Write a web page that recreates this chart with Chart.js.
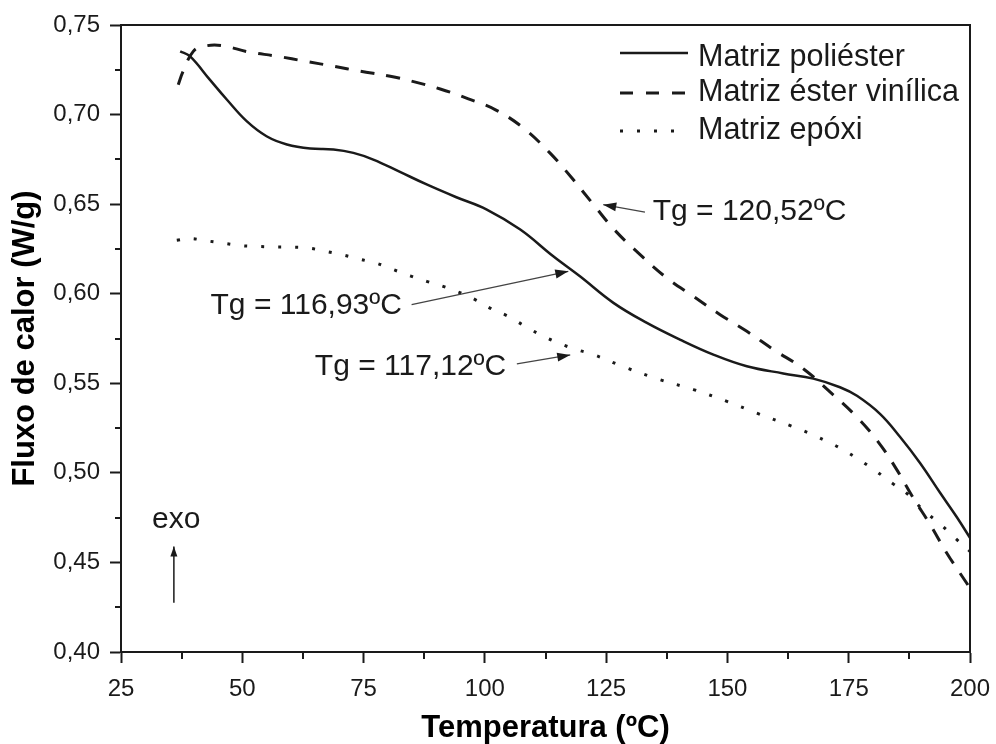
<!DOCTYPE html>
<html><head><meta charset="utf-8">
<script src="https://cdn.jsdelivr.net/npm/chart.js@4.4.1/dist/chart.umd.min.js"></script>
<style>html,body{margin:0;padding:0;background:#fff;}#wrap{width:996px;height:744px;}</style>
</head><body><div id="wrap"><canvas id="c" width="996" height="744"></canvas></div>
<script>
// ---- data ----
const seriesLabels = ['Matriz poliéster', 'Matriz éster vinílica', 'Matriz epóxi'];

const poliesterX = [37.2, 39.2, 43.3, 46.8, 50.9, 55.0, 59.2, 64.0, 68.8, 72.9, 77.0, 82.5, 88.0, 94.0, 100.4, 107.3, 114.1, 119.6, 126.5, 133.4, 140.2, 147.1, 154.0, 161.5, 167.7, 173.2, 176.7, 181.5, 185.6, 189.7, 193.8, 197.3, 200];
const poliesterY = [0.7353, 0.7326, 0.7195, 0.7084, 0.6963, 0.6879, 0.6833, 0.6810, 0.6805, 0.6786, 0.6749, 0.6680, 0.6610, 0.6540, 0.6470, 0.6358, 0.6209, 0.6097, 0.5949, 0.5837, 0.5744, 0.5660, 0.5595, 0.5555, 0.5526, 0.5478, 0.5430, 0.5328, 0.5200, 0.5055, 0.4890, 0.4752, 0.4637];

const vinilicaX = [36.8, 37.8, 39.9, 42.0, 45.8, 51.2, 57.1, 63.3, 68.8, 74.3, 80.5, 86.3, 90.8, 96.6, 102.1, 107.9, 113.4, 117.9, 122.4, 126.7, 132.0, 137.5, 143.0, 148.5, 154.0, 159.5, 165.7, 170.8, 176.3, 181.1, 184.9, 188.3, 191.8, 195.2, 199.3, 200];
const vinilicaY = [0.7167, 0.7242, 0.7353, 0.7381, 0.7385, 0.7350, 0.7326, 0.7296, 0.7270, 0.7242, 0.7214, 0.7177, 0.7143, 0.7088, 0.7028, 0.6926, 0.6786, 0.6647, 0.6497, 0.6357, 0.6218, 0.6088, 0.5985, 0.5883, 0.5790, 0.5688, 0.5580, 0.5460, 0.5322, 0.5172, 0.5018, 0.4860, 0.4711, 0.4553, 0.4385, 0.4355];

const epoxiX = [36.5, 39.2, 42.7, 46.1, 49.9, 53.3, 56.8, 60.2, 63.6, 67.1, 70.5, 74.3, 77.7, 81.1, 84.6, 88.0, 91.4, 94.5, 98.0, 101.4, 104.8, 108.3, 112.1, 115.5, 118.9, 122.4, 129.2, 136.1, 143.0, 149.9, 156.0, 163.3, 166.7, 170.1, 173.5, 177.1, 180.4, 184.1, 187.3, 190.4, 193.8, 196.9, 200];
const epoxiY = [0.6298, 0.6308, 0.6295, 0.6282, 0.6268, 0.6264, 0.6261, 0.6260, 0.6255, 0.6237, 0.6218, 0.6192, 0.6170, 0.6135, 0.6100, 0.6069, 0.6041, 0.6010, 0.5967, 0.5915, 0.5874, 0.5818, 0.5762, 0.5721, 0.5688, 0.5660, 0.5586, 0.5520, 0.5465, 0.5399, 0.5334, 0.5260, 0.5223, 0.5181, 0.5134, 0.5074, 0.5014, 0.4940, 0.4878, 0.4791, 0.4716, 0.4637, 0.4562];

const xTickValues = [25, 50, 75, 100, 125, 150, 175, 200];
const yTickValues = [0.40, 0.45, 0.50, 0.55, 0.60, 0.65, 0.70, 0.75];
const xMinorTicks = [37.5, 62.5, 87.5, 112.5, 137.5, 162.5, 187.5];
const yMinorTicks = [0.425, 0.475, 0.525, 0.575, 0.625, 0.675, 0.725];

const xTitle = 'Temperatura (ºC)';
const yTitle = 'Fluxo de calor (W/g)';

// annotations in data coordinates
const annotationTexts = ['Tg = 120,52ºC', 'Tg = 116,93ºC', 'Tg = 117,12ºC', 'exo'];
const annotationX = [134.6, 82.9, 104.4, 31.4];
const annotationY = [0.646, 0.5935, 0.5595, 0.4739];
const arrowFromX = [133.0, 84.9, 106.6, 35.9];
const arrowFromY = [0.6456, 0.5939, 0.5608, 0.4275];
const arrowToX = [124.4, 117.2, 117.6, 35.9];
const arrowToY = [0.6497, 0.6125, 0.5658, 0.4589];

// ---- build ----
const FONT = '"Liberation Sans", Arial, sans-serif';
const INK = '#1a1a1a';
const toPts = (xs, ys) => xs.map((x, i) => ({x: x, y: ys[i]}));

const styles = [
  {borderDash: [], borderWidth: 2.5},
  {borderDash: [14, 12], borderWidth: 3},
  {borderDash: [3, 14], borderWidth: 3}
];
const seriesData = [toPts(poliesterX, poliesterY), toPts(vinilicaX, vinilicaY), toPts(epoxiX, epoxiY)];

const datasets = seriesData.map((d, i) => ({
  label: seriesLabels[i],
  data: d,
  borderColor: INK,
  backgroundColor: INK,
  borderWidth: styles[i].borderWidth,
  borderDash: styles[i].borderDash,
  borderCapStyle: 'butt',
  pointRadius: 0,
  showLine: true,
  fill: false,
  tension: 0.4
}));

function arrowHead(ctx, x1, y1, x2, y2, len, half) {
  const a = Math.atan2(y2 - y1, x2 - x1);
  ctx.beginPath();
  ctx.moveTo(x2, y2);
  ctx.lineTo(x2 - len * Math.cos(a) + half * Math.sin(a), y2 - len * Math.sin(a) - half * Math.cos(a));
  ctx.lineTo(x2 - len * Math.cos(a) - half * Math.sin(a), y2 - len * Math.sin(a) + half * Math.cos(a));
  ctx.closePath();
  ctx.fill();
}

const decor = {
  id: 'decor',
  afterDraw(chart) {
    const {ctx, chartArea: ca, scales: {x, y}} = chart;
    ctx.save();
    // frame
    ctx.strokeStyle = INK;
    ctx.lineWidth = 2;
    ctx.strokeRect(ca.left, ca.top, ca.right - ca.left, ca.bottom - ca.top);
    // minor ticks
    ctx.beginPath();
    xMinorTicks.forEach(v => {
      const px = Math.round(x.getPixelForValue(v));
      ctx.moveTo(px, ca.bottom); ctx.lineTo(px, ca.bottom + 7);
    });
    yMinorTicks.forEach(v => {
      const py = Math.round(y.getPixelForValue(v));
      ctx.moveTo(ca.left - 6, py); ctx.lineTo(ca.left, py);
    });
    ctx.stroke();

    // annotations
    ctx.fillStyle = INK;
    ctx.font = '30px ' + FONT;
    ctx.textBaseline = 'middle';
    annotationTexts.forEach((t, i) => {
      const isLeft = (i === 0 || i === 3);
      ctx.textAlign = isLeft ? 'left' : 'right';
      ctx.fillText(t, x.getPixelForValue(annotationX[i]), y.getPixelForValue(annotationY[i]));
    });
    arrowFromX.forEach((fx, i) => {
      const x1 = x.getPixelForValue(fx), y1 = y.getPixelForValue(arrowFromY[i]);
      const x2 = x.getPixelForValue(arrowToX[i]), y2 = y.getPixelForValue(arrowToY[i]);
      ctx.strokeStyle = i === 3 ? INK : '#444';
      ctx.lineWidth = i === 3 ? 1.5 : 1.3;
      ctx.beginPath(); ctx.moveTo(x1, y1); ctx.lineTo(x2, y2); ctx.stroke();
      ctx.fillStyle = INK;
      arrowHead(ctx, x1, y1, x2, y2, i === 3 ? 10 : 13, i === 3 ? 3.5 : 4.5);
    });

    // legend
    const lineX1 = 620, lineX2 = 688, textX = 698;
    const rowLine = [53, 93, 131];
    const rowText = [58, 93, 131];
    chart.data.datasets.forEach((ds, i) => {
      ctx.strokeStyle = INK;
      ctx.lineWidth = ds.borderWidth;
      ctx.setLineDash(i === 1 ? [13, 13] : ds.borderDash);
      ctx.lineCap = 'butt';
      ctx.beginPath(); ctx.moveTo(lineX1, rowLine[i]); ctx.lineTo(lineX2, rowLine[i]); ctx.stroke();
      ctx.setLineDash([]);
      ctx.fillStyle = INK;
      ctx.textAlign = 'left';
      ctx.textBaseline = 'middle';
      ctx.font = '30.5px ' + FONT;
      ctx.fillText(ds.label, textX, rowText[i]);
    });
    ctx.restore();
  }
};

new Chart(document.getElementById('c'), {
  type: 'scatter',
  data: {datasets: datasets},
  options: {
    responsive: false,
    animation: false,
    events: [],
    layout: {padding: {top: 25, right: 26, left: 0, bottom: 0}},
    plugins: {legend: {display: false}, tooltip: {enabled: false}},
    scales: {
      x: {
        type: 'linear', min: 25, max: 200,
        afterBuildTicks: s => { s.ticks = xTickValues.map(v => ({value: v})); },
        afterFit: s => { s.height = 92; s.paddingLeft = 0; s.paddingRight = 0; },
        ticks: {color: INK, font: {family: FONT, size: 24}, padding: 12, maxRotation: 0,
          callback: v => String(v)},
        grid: {display: true, drawOnChartArea: false, drawTicks: true, tickLength: 11, tickWidth: 2, tickColor: INK, color: INK},
        border: {display: true, width: 2, color: INK},
        title: {display: true, text: xTitle, color: '#000', font: {family: FONT, size: 31, weight: 'bold', lineHeight: 1}, padding: {top: 0, bottom: 0}}
      },
      y: {
        type: 'linear', min: 0.40, max: 0.75,
        afterBuildTicks: s => { s.ticks = yTickValues.map(v => ({value: v})); },
        afterFit: s => { s.width = 121; s.paddingTop = 0; s.paddingBottom = 0; },
        ticks: {color: INK, font: {family: FONT, size: 24}, padding: 10,
          callback: v => Number(v).toFixed(2).replace('.', ',')},
        grid: {display: true, drawOnChartArea: false, drawTicks: true, tickLength: 11, tickWidth: 2, tickColor: INK, color: INK},
        border: {display: true, width: 2, color: INK},
        title: {display: true, text: yTitle, color: '#000', font: {family: FONT, size: 31, weight: 'bold', lineHeight: 1}, padding: {top: 9.5, bottom: 0}}
      }
    }
  },
  plugins: [decor]
});
</script>
</body></html>
